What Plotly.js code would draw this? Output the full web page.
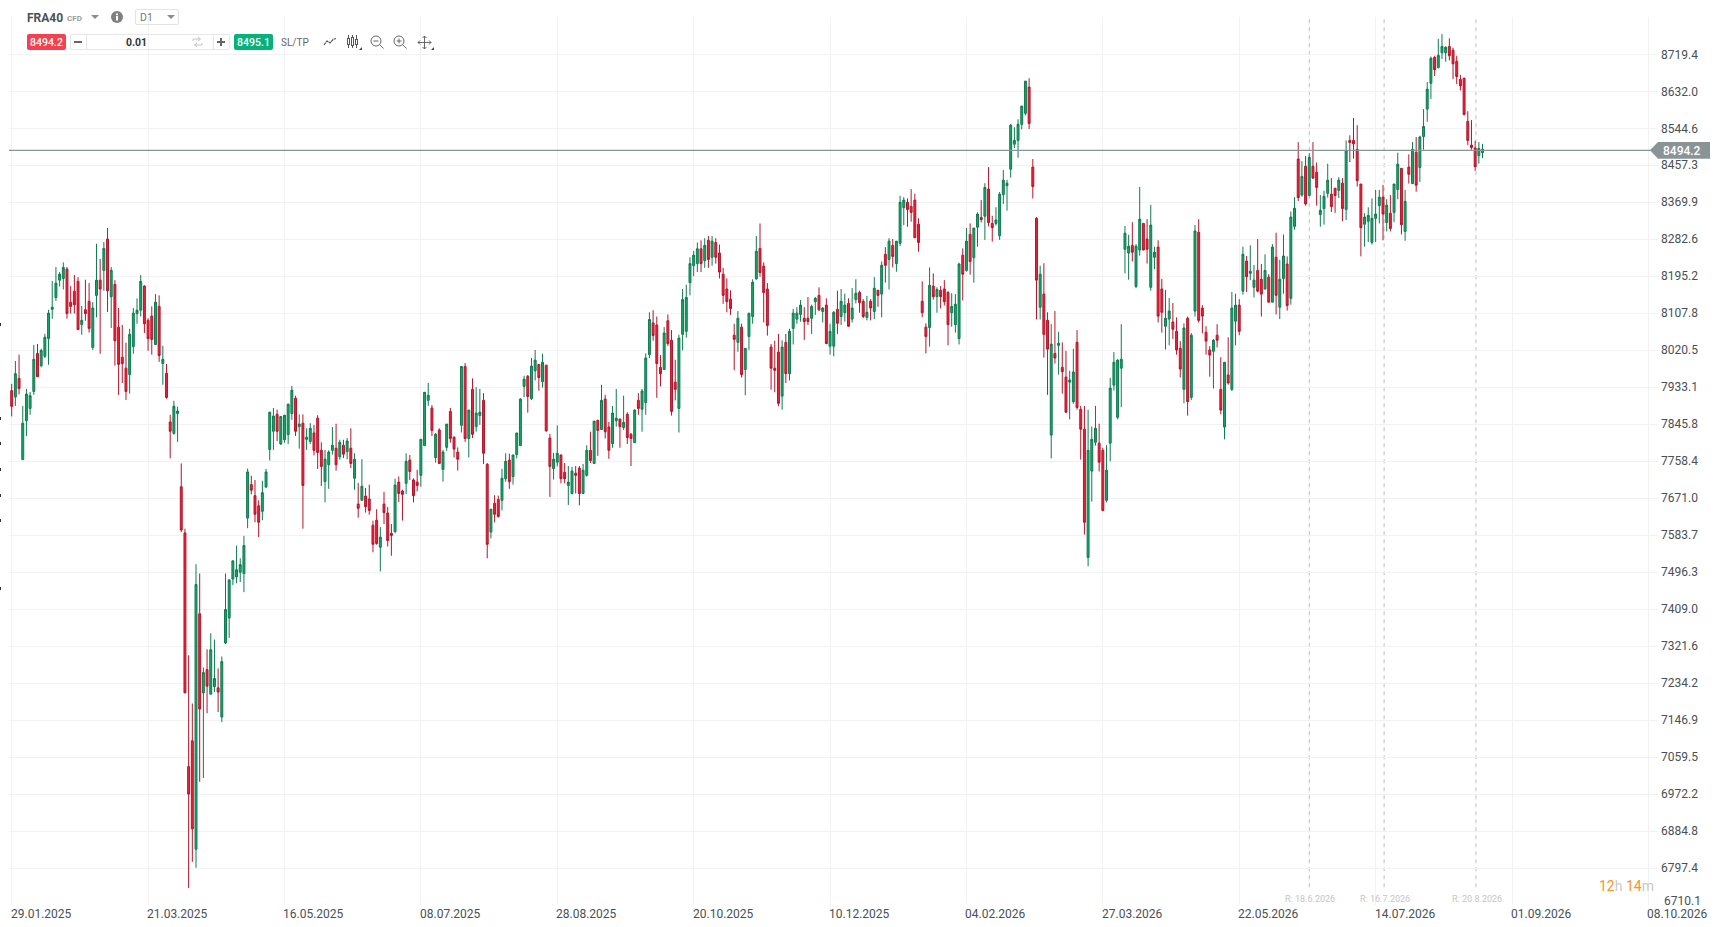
<!DOCTYPE html>
<html>
<head>
<meta charset="utf-8">
<title>FRA40 D1</title>
<script src="https://cdn.plot.ly/plotly-3.0.1.min.js"></script>
<style>
html,body{margin:0;padding:0;background:#fff;width:1721px;height:927px;overflow:hidden;font-family:Roboto,sans-serif}
#chart{position:absolute;left:0;top:0;width:1721px;height:927px}
.t{position:absolute;white-space:nowrap;line-height:16px}
.box{position:absolute;box-sizing:border-box}
svg.i{position:absolute;overflow:visible}
</style>
</head>
<body>
<div id="chart"></div>

<div class="t" style="left:27px;top:10px;font-size:12px;font-weight:700;color:#4b5157">FRA40</div>
<div class="t" style="left:67px;top:11px;font-size:8px;font-weight:700;color:#9a9a9a">CFD</div>
<svg class="i" style="left:91px;top:15px" width="9" height="5"><path d="M0 0H8L4 4Z" fill="#8c8c8c"/></svg>
<svg class="i" style="left:111px;top:11px" width="12" height="12"><circle cx="6" cy="6" r="6" fill="#808080"/><rect x="5" y="5" width="2" height="4.5" fill="#fff"/><rect x="5" y="2.5" width="2" height="1.7" fill="#fff"/></svg>
<div class="box" style="left:135px;top:9px;width:44px;height:16px;border:1px solid #e3e3e3;border-radius:2px"></div>
<div class="t" style="left:140px;top:10px;font-size:10.5px;color:#777">D1</div>
<svg class="i" style="left:167px;top:15px" width="9" height="5"><path d="M0 0H8L4 4Z" fill="#8c8c8c"/></svg>

<div class="box" style="left:27px;top:34px;width:39px;height:16px;background:#f7404f;border-radius:2px"></div>
<div class="t" style="left:27px;top:35px;width:39px;text-align:center;font-size:10.5px;font-weight:500;color:#fff">8494.2</div>
<div class="box" style="left:70px;top:34px;width:160px;height:16px;border:1px solid #e6e6e6;border-radius:2px"></div>
<div class="box" style="left:86px;top:34px;width:1px;height:16px;background:#e6e6e6"></div>
<div class="box" style="left:213px;top:34px;width:1px;height:16px;background:#e6e6e6"></div>
<div class="box" style="left:74px;top:41px;width:8px;height:2px;background:#666"></div>
<div class="t" style="left:87px;top:35px;width:99px;text-align:center;font-size:10.5px;font-weight:700;color:#333">0.01</div>
<svg class="i" style="left:192px;top:37px" width="11" height="10"><path d="M1 4V2H8M6 0L8.5 2L6 4M10 6V8H3M5 6L2.5 8L5 10" fill="none" stroke="#c4c4c4" stroke-width="1"/></svg>
<div class="box" style="left:217px;top:41px;width:8px;height:2px;background:#666"></div>
<div class="box" style="left:220px;top:38px;width:2px;height:8px;background:#666"></div>
<div class="box" style="left:234px;top:34px;width:39px;height:16px;background:#05b27a;border-radius:2px"></div>
<div class="t" style="left:234px;top:35px;width:39px;text-align:center;font-size:10.5px;font-weight:500;color:#fff">8495.1</div>
<div class="t" style="left:281px;top:35px;font-size:10px;color:#666">SL/TP</div>
<svg class="i" style="left:323px;top:37px" width="14" height="9"><path d="M1 8L4 4L7 6L10 2.5L13 1.5" fill="none" stroke="#555" stroke-width="1.2" stroke-dasharray="3 .5"/></svg>
<svg class="i" style="left:347px;top:35px" width="12" height="14"><path d="M1.5 0V13M5.5 0V13M9.5 0V13" stroke="#555"/><rect x=".5" y="3.5" width="2" height="6" fill="#fff" stroke="#555"/><rect x="4.5" y="2.5" width="2" height="8" fill="#fff" stroke="#555"/><rect x="8.5" y="4.5" width="2" height="5" fill="#fff" stroke="#555"/></svg>
<svg class="i" style="left:359px;top:47px" width="4" height="4"><path d="M3 0V3H0Z" fill="#444"/></svg>
<svg class="i" style="left:370px;top:35px" width="14" height="14"><circle cx="6" cy="6" r="5" fill="none" stroke="#666"/><path d="M9.5 9.5L13.5 13.5" stroke="#666"/><path d="M3.5 6H8.5" stroke="#666"/></svg>
<svg class="i" style="left:393px;top:35px" width="14" height="14"><circle cx="6" cy="6" r="5" fill="none" stroke="#666"/><path d="M9.5 9.5L13.5 13.5" stroke="#666"/><path d="M3.5 6H8.5M6 3.5V8.5" stroke="#666"/></svg>
<svg class="i" style="left:418px;top:36px" width="14" height="13"><path d="M0 6.5H13M6.5 0V13M0 6.5L2 4.5M0 6.5L2 8.5M13 6.5L11 4.5M13 6.5L11 8.5M6.5 0L4.5 2M6.5 0L8.5 2M6.5 13L4.5 11M6.5 13L8.5 11" fill="none" stroke="#666"/></svg>
<svg class="i" style="left:431px;top:47px" width="4" height="4"><path d="M3 0V3H0Z" fill="#444"/></svg>

<div id="specks"></div>

<script>
const symbol = "FRA40";
const lastPrice = 8494.2;
const direction = (
 "RGRGGGGRGG"+"GGGGGRRRRG"+"RRGGRGRGRR"+"RRGGGGRRRG"+"RGRRGGRRRR"+
 "GRGRGGRGGG"+"GGGGGRRRGG"+"GGRGGGGRGR"+"GGRRRGGGRG"+"RGRGRGRRRR"+
 "GRRRGRRGRR"+"RGGGRGRGGR"+"RRGRGRGGRR"+"GRRGGRGGGG"+"RGGRGRRGGR"+
 "RGGRRGGRGR"+"GRRGGRGRRG"+"RGGGRRRGRR"+"RGGGGGGRGR"+"GRRRRRRGRG"+
 "GGGRRRRRRG"+"RGGGGRRGGR"+"GRGGRGGRGG"+"RRGRGRGRGR"+"GGGRRRRRRG"+
 "RGRRRGGGRG"+"RGGRGRRGGG"+"GGGGGGRRRG"+"RRGRGRRGGR"+"RRGGGRRGGG"+
 "GGGGRGGRRG"+"GRRGGRRRGR"+"GGRRRRGRRG"+"RGGRGRGGRR"+"GRGRGGRGGR"+
 "GRGRRGGGRR"+"GRGRRRRGGG"+"GGRGRGGRGR"+"GRGGGGRGGG"+"RRRRRRRRGG"
).split("");

const highs = [
7941,7995,8010,7889,7929,7922,8033,8035,8024,8059,
8116,8184,8217,8205,8228,8217,8172,8198,8193,8125,
8187,8179,8134,8272,8236,8276,8309,8217,8186,8120,
8080,8038,8071,8120,8143,8198,8174,8096,8124,8153,
8150,8031,7988,7868,7901,7887,7753,7599,7300,7186,
7515,7493,7271,7314,7352,7337,7269,7297,7493,7479,
7523,7559,7529,7582,7741,7724,7714,7666,7712,7740,
7875,7884,7880,7864,7867,7894,7936,7913,7869,7869,
7836,7848,7844,7867,7803,7785,7784,7839,7847,7809,
7809,7813,7836,7777,7707,7763,7695,7703,7618,7645,
7603,7686,7650,7610,7717,7722,7691,7777,7773,7718,
7738,7810,7922,7943,7891,7825,7836,7785,7846,7884,
7817,7791,7983,7990,7880,7954,7933,7929,7919,7754,
7645,7678,7677,7740,7777,7776,7773,7825,7907,7960,
7962,8002,8021,7987,8012,7986,7823,7778,7843,7774,
7754,7747,7745,7747,7747,7752,7796,7828,7853,7856,
7939,7915,7851,7889,7929,7858,7913,7874,7825,7881,
7919,7929,8013,8110,8115,8100,8009,8075,8105,8068,
7998,8057,8165,8175,8240,8255,8275,8280,8285,8290,
8290,8285,8270,8215,8190,8162,8083,8113,8083,8025,
8108,8188,8290,8320,8228,8179,8035,8043,8059,8044,
8059,8071,8118,8122,8139,8122,8146,8128,8146,8169,
8122,8143,8083,8113,8161,8165,8154,8143,8167,8188,
8161,8141,8149,8141,8193,8163,8230,8264,8285,8283,
8278,8385,8382,8379,8401,8390,8332,8183,8084,8216,
8202,8169,8172,8186,8160,8155,8153,8227,8261,8309,
8320,8309,8346,8375,8415,8453,8338,8358,8394,8446,
8423,8555,8547,8566,8597,8656,8663,8472,8335,8220,
8226,8110,8082,8113,8064,8039,8019,7972,8024,8068,
7889,7889,7880,7840,7889,7847,7790,7796,7955,8016,
7999,8082,8314,8293,8323,8271,8406,8320,8330,8364,
8265,8280,8189,8163,8144,8132,8098,8042,8084,8100,
8061,8316,8330,8127,8077,8030,8047,8082,8004,7992,
8051,8158,8154,8141,8265,8243,8268,8222,8283,8224,
8247,8200,8271,8298,8234,8294,8242,8348,8382,8512,
8467,8479,8486,8512,8464,8387,8397,8461,8427,8404,
8429,8427,8516,8528,8569,8552,8413,8344,8358,8379,
8399,8399,8411,8377,8387,8413,8487,8450,8399,8483,
8512,8524,8527,8590,8654,8714,8716,8756,8767,8738,
8757,8735,8716,8671,8664,8585,8564,8515,8512,8508];

const bodyTops = [
7925,7965,7954,7848,7917,7913,7999,8013,8020,8051,
8108,8122,8179,8200,8216,8212,8134,8160,8183,8091,
8116,8136,8120,8186,8186,8261,8283,8209,8176,8075,
8004,7978,8058,8108,8115,8183,8172,8091,8101,8134,
8124,7999,7966,7851,7888,7877,7698,7589,7037,7098,
7467,7398,7259,7266,7313,7245,7223,7285,7408,7478,
7523,7502,7514,7559,7733,7703,7677,7653,7684,7733,
7874,7865,7869,7864,7867,7893,7926,7907,7846,7848,
7815,7836,7825,7860,7784,7763,7780,7796,7789,7803,
7796,7806,7789,7763,7657,7699,7676,7669,7607,7619,
7579,7657,7636,7588,7702,7709,7688,7758,7761,7714,
7709,7810,7921,7914,7884,7822,7832,7780,7846,7876,
7815,7780,7982,7982,7879,7928,7872,7874,7902,7751,
7645,7659,7668,7718,7758,7761,7773,7825,7905,7952,
7959,7983,7997,7987,7992,7985,7813,7763,7777,7773,
7732,7709,7735,7730,7742,7737,7784,7784,7853,7855,
7902,7905,7839,7872,7860,7858,7850,7869,7822,7879,
7902,7924,8002,8093,8085,8080,7980,8061,8090,8044,
7945,8049,8140,8145,8225,8245,8260,8260,8268,8280,
8278,8275,8250,8200,8165,8141,8056,8096,8075,8025,
8108,8181,8254,8261,8219,8165,8028,7978,8016,8028,
8039,8065,8108,8108,8127,8096,8096,8124,8143,8150,
8120,8127,8065,8110,8117,8136,8127,8131,8120,8155,
8157,8136,8110,8136,8167,8162,8221,8247,8278,8268,
8278,8370,8375,8370,8360,8375,8318,8136,8075,8174,
8172,8164,8162,8165,8157,8124,8129,8224,8245,8278,
8294,8309,8342,8334,8405,8401,8320,8328,8389,8422,
8415,8552,8516,8554,8597,8656,8642,8453,8332,8200,
8153,8091,8035,8013,8037,7980,7957,7950,7969,8039,
7881,7834,7784,7810,7836,7801,7784,7737,7931,7992,
7997,7999,8297,8266,8268,8266,8330,8320,8283,8316,
8252,8264,8165,8096,8113,8087,8065,8025,8073,8096,
8056,8302,8299,8120,8063,8021,8044,8056,7928,7992,
7962,8120,8127,8127,8247,8231,8207,8186,8209,8188,
8209,8193,8264,8240,8188,8243,8224,8335,8356,8472,
8431,8455,8476,8455,8441,8351,8384,8422,8389,8403,
8422,8415,8491,8516,8516,8495,8413,8335,8339,8332,
8342,8382,8382,8363,8344,8413,8460,8450,8372,8453,
8495,8488,8524,8549,8637,8710,8712,8717,8738,8736,
8738,8729,8703,8660,8663,8561,8505,8498,8497,8495];

const bodyBottoms = [
7888,7910,7930,7762,7854,7883,7923,7958,7984,8006,
8048,8117,8145,8186,8190,8107,8124,8128,8069,8081,
8107,8072,8027,8150,8165,8209,8161,8147,8043,7987,
7989,7923,7963,8029,8107,8115,8083,8048,8046,8034,
8008,7989,7909,7829,7824,7871,7596,7211,6972,6890,
6842,7173,7211,7227,7208,7226,7213,7154,7329,7388,
7480,7485,7496,7493,7624,7690,7633,7614,7640,7697,
7786,7829,7829,7799,7809,7821,7871,7829,7840,7701,
7810,7805,7784,7779,7746,7710,7750,7784,7750,7769,
7775,7781,7753,7718,7647,7666,7651,7642,7562,7564,
7555,7637,7571,7583,7592,7682,7680,7706,7734,7677,
7701,7725,7795,7902,7831,7767,7753,7739,7791,7812,
7787,7763,7843,7812,7812,7822,7840,7866,7777,7562,
7591,7633,7628,7666,7717,7710,7722,7774,7795,7935,
7911,7906,7972,7956,7946,7830,7746,7741,7756,7717,
7717,7701,7682,7725,7682,7682,7725,7760,7753,7831,
7833,7828,7784,7800,7854,7840,7838,7814,7812,7802,
7883,7881,7897,8010,8055,7989,7965,7975,8036,7876,
7928,7883,8058,8065,8180,8220,8225,8225,8232,8235,
8240,8240,8205,8150,8135,8119,8046,8039,7963,7975,
8053,8100,8189,8204,8157,8079,7978,7973,7895,7912,
7965,7965,8072,8094,8105,8088,8088,8096,8135,8116,
8112,8036,8030,8030,8084,8100,8109,8077,8094,8140,
8133,8100,8098,8120,8112,8150,8153,8221,8235,8242,
8225,8273,8357,8353,8346,8286,8275,8109,8053,8074,
8147,8147,8147,8135,8081,8109,8081,8048,8200,8209,
8230,8239,8311,8329,8337,8322,8310,8320,8291,8388,
8409,8448,8507,8516,8554,8580,8556,8407,8186,8122,
8058,8023,7820,8002,8032,7970,7874,7945,7899,7885,
7834,7614,7531,7735,7803,7756,7642,7666,7801,7938,
7862,7978,8259,8250,8252,8171,8257,8257,8259,8169,
8240,8101,8110,8077,8094,8070,8021,7976,7928,7899,
7909,8113,8091,8101,8042,8009,8018,8044,7879,7839,
7943,7928,8089,8065,8160,8194,8202,8169,8160,8153,
8165,8134,8134,8150,8122,8190,8126,8143,8313,8381,
8387,8366,8386,8427,8405,8341,8355,8391,8360,8386,
8398,8355,8353,8511,8508,8421,8310,8318,8325,8275,
8332,8362,8342,8322,8308,8346,8400,8317,8301,8436,
8414,8410,8452,8525,8590,8651,8683,8688,8723,8723,
8716,8697,8667,8645,8577,8516,8499,8454,8480,8487];

const lows = [
7864,7889,7916,7762,7818,7868,7915,7958,7980,8002,
7986,8095,8137,8171,8164,8095,8107,8107,8069,8057,
8090,8062,8021,8098,8012,8161,8111,8073,7984,7915,
7943,7903,7918,8012,8083,8100,8061,8019,8010,8033,
7993,7939,7906,7765,7821,7804,7591,7211,6750,6812,
6798,7001,7010,7163,7208,7213,7166,7142,7326,7341,
7466,7470,7473,7449,7600,7680,7614,7579,7619,7697,
7760,7785,7806,7797,7802,7799,7856,7818,7788,7599,
7785,7799,7772,7740,7700,7661,7693,7774,7736,7762,
7766,7763,7742,7691,7625,7666,7637,7632,7543,7561,
7498,7610,7557,7535,7588,7662,7618,7681,7714,7661,
7687,7698,7795,7889,7818,7755,7752,7710,7783,7802,
7767,7736,7826,7804,7767,7813,7828,7844,7752,7529,
7576,7614,7625,7642,7710,7693,7703,7765,7795,7910,
7873,7903,7949,7925,7932,7828,7674,7715,7746,7706,
7706,7655,7680,7682,7654,7682,7722,7754,7753,7771,
7833,7812,7764,7790,7840,7790,7832,7799,7747,7802,
7868,7828,7868,8002,8043,7908,7935,7975,8031,7866,
7902,7826,8020,8050,8150,8195,8205,8205,8215,8215,
8220,8225,8190,8130,8110,8104,7973,8017,7956,7914,
8021,8083,8187,8194,8086,8055,7927,7921,7888,7880,
7943,7949,8034,8083,8088,8045,8080,8059,8104,8113,
8086,8035,8010,8006,8059,8080,8088,8076,8086,8131,
8109,8096,8091,8091,8094,8123,8098,8180,8164,8216,
8206,8267,8316,8312,8324,8286,8253,8098,8013,8029,
8140,8109,8119,8126,8032,8076,8062,8034,8138,8206,
8199,8180,8265,8322,8281,8313,8277,8315,8281,8366,
8350,8428,8498,8475,8542,8575,8543,8379,8093,8093,
8003,7915,7765,7989,7963,7918,7873,7857,7894,7880,
7762,7585,7510,7663,7795,7734,7640,7661,7758,7925,
7857,7886,8202,8187,8230,8167,8244,8257,8225,8161,
8212,8086,8062,8022,8032,8047,8010,7956,7895,7866,
7903,8100,8086,8060,8010,7958,7930,8027,7869,7810,
7939,7924,8032,8056,8152,8158,8186,8145,8157,8100,
8164,8133,8134,8105,8094,8154,8114,8128,8305,8373,
8383,8362,8384,8425,8362,8312,8317,8381,8347,8345,
8380,8325,8328,8465,8473,8407,8242,8265,8276,8270,
8276,8320,8280,8301,8301,8323,8377,8294,8279,8414,
8413,8395,8418,8494,8560,8614,8668,8686,8708,8702,
8705,8661,8649,8634,8575,8505,8494,8444,8461,8474];

const priceTicks = [8719.4,8632.0,8544.6,8457.3,8369.9,8282.6,8195.2,8107.8,8020.5,7933.1,7845.8,7758.4,7671.0,7583.7,7496.3,7409.0,7321.6,7234.2,7146.9,7059.5,6972.2,6884.8,6797.4,6710.1];
const barsPerDateTick = 37;
const dateLabels = ["29.01.2025","21.03.2025","16.05.2025","08.07.2025","28.08.2025","20.10.2025","10.12.2025","04.02.2026","27.03.2026","22.05.2026","14.07.2026","01.09.2026","08.10.2026"];
const rolloverBars = [352, 372.3, 397.2];
const rolloverLabels = ["R: 18.6.2026","R: 16.7.2026","R: 20.8.2026"];

const idx = highs.map((_, i) => i);
const opens = idx.map(i => direction[i] === "R" ? bodyTops[i] : bodyBottoms[i]);
const closes = idx.map(i => direction[i] === "R" ? bodyBottoms[i] : bodyTops[i]);
const dateTickVals = dateLabels.map((_, i) => i * barsPerDateTick);

const TXT = "#4a4f55";
const GRID = "#f2f2f2";

const trace = {
  type: "candlestick",
  x: idx, open: opens, high: highs, low: lows, close: closes,
  whiskerwidth: 0,
  increasing: {line: {color: "#0f7a52", width: 1}, fillcolor: "#17a668"},
  decreasing: {line: {color: "#b3162b", width: 1}, fillcolor: "#ee2139"},
  hoverinfo: "skip",
  showlegend: false
};

const shapes = [
  ...rolloverBars.map(b => ({
    type: "line", layer: "below", xref: "x", yref: "paper",
    x0: b, x1: b, y0: 0.02, y1: 1,
    line: {color: "#bdbdbd", width: 1, dash: "4px,4px"}
  })),
  {type: "line", layer: "above", xref: "paper", yref: "y", ysizemode: "pixel", yanchor: lastPrice,
   x0: 0, x1: 1, y0: -0.7, y1: -0.7, line: {color: "#8a9496", width: 1.3}},
  {type: "path", layer: "above", xref: "paper", yref: "y", xsizemode: "pixel", ysizemode: "pixel",
   xanchor: 1, yanchor: lastPrice, path: "M -8 -0.7 L 0 -9 L 52 -9 L 52 7.6 L 0 7.6 Z",
   fillcolor: "#8a9496", line: {width: 0}}
];

const annotations = [
  ...dateLabels.map((t, i) => ({
    text: t, xref: "x", yref: "paper", x: dateTickVals[i], y: 0, xanchor: "left", yanchor: "top",
    xshift: -2, yshift: -1, showarrow: false, borderpad: 0, font: {family: "Roboto", size: 12, color: TXT}
  })),
  ...rolloverLabels.map((t, i) => ({
    text: t, xref: "x", yref: "paper", x: rolloverBars[i], y: 0.0067, xanchor: "center", yanchor: "middle",
    xshift: 1, showarrow: false, borderpad: 0, font: {family: "Roboto", size: 9, color: "#c6c6c6"}
  })),
  {text: String(priceTicks[priceTicks.length - 1].toFixed(1)), xref: "paper", yref: "paper", x: 1, y: 0.0045,
   xanchor: "left", yanchor: "middle", xshift: 5, showarrow: false, borderpad: 0,
   font: {family: "Roboto", size: 12, color: TXT}},
  {text: lastPrice.toFixed(1), xref: "paper", yref: "y", x: 1, y: lastPrice, xanchor: "left", yanchor: "middle",
   xshift: 4, yshift: -1, showarrow: false, borderpad: 0, font: {family: "Roboto", size: 12, weight: 500, color: "#ffffff"}},
  {text: '<span style="color:#f7941d">12</span><span style="color:#c9c9c9">h </span><span style="color:#f7941d">14</span><span style="color:#c9c9c9">m</span>',
   xref: "paper", yref: "paper", x: 0.9984, y: 0.0215, xanchor: "right", yanchor: "middle",
   showarrow: false, borderpad: 0, font: {family: "Roboto", size: 14, color: "#c9c9c9"}}
];

const layout = {
  width: 1721, height: 927,
  margin: {l: 9, r: 63, t: 17, b: 22, pad: 0},
  paper_bgcolor: "#ffffff", plot_bgcolor: "#ffffff",
  font: {family: "Roboto", size: 12, color: TXT},
  boxgap: 0.25,
  showlegend: false,
  dragmode: false,
  xaxis: {
    type: "linear", range: [-0.73, 446.6], rangeslider: {visible: false},
    tickmode: "array", tickvals: dateTickVals, ticktext: dateLabels,
    showticklabels: false, showgrid: true, gridcolor: GRID, gridwidth: 1,
    zeroline: false, showline: false, ticks: ""
  },
  yaxis: {
    type: "linear", range: [6710.1, 8807.5], side: "right",
    tickmode: "array", tickvals: priceTicks,
    ticktext: priceTicks.map((v, i) => i === priceTicks.length - 1 ? "" : v.toFixed(1)),
    showgrid: true, gridcolor: GRID, gridwidth: 1, zeroline: false, showline: false, ticks: "",
    ticklabelstandoff: 2,
    tickfont: {family: "Roboto", size: 12, color: TXT}
  },
  shapes, annotations
};

Plotly.newPlot("chart", [trace], layout, {staticPlot: true, displayModeBar: false});
</script>
<script>
[323,417,442,468,494,519,587].forEach(function(y){
  var d=document.createElement("div");
  d.style.cssText="position:absolute;left:0;top:"+y+"px;width:1px;height:3px;background:#333";
  document.getElementById("specks").appendChild(d);
});
</script>
</body>
</html>
